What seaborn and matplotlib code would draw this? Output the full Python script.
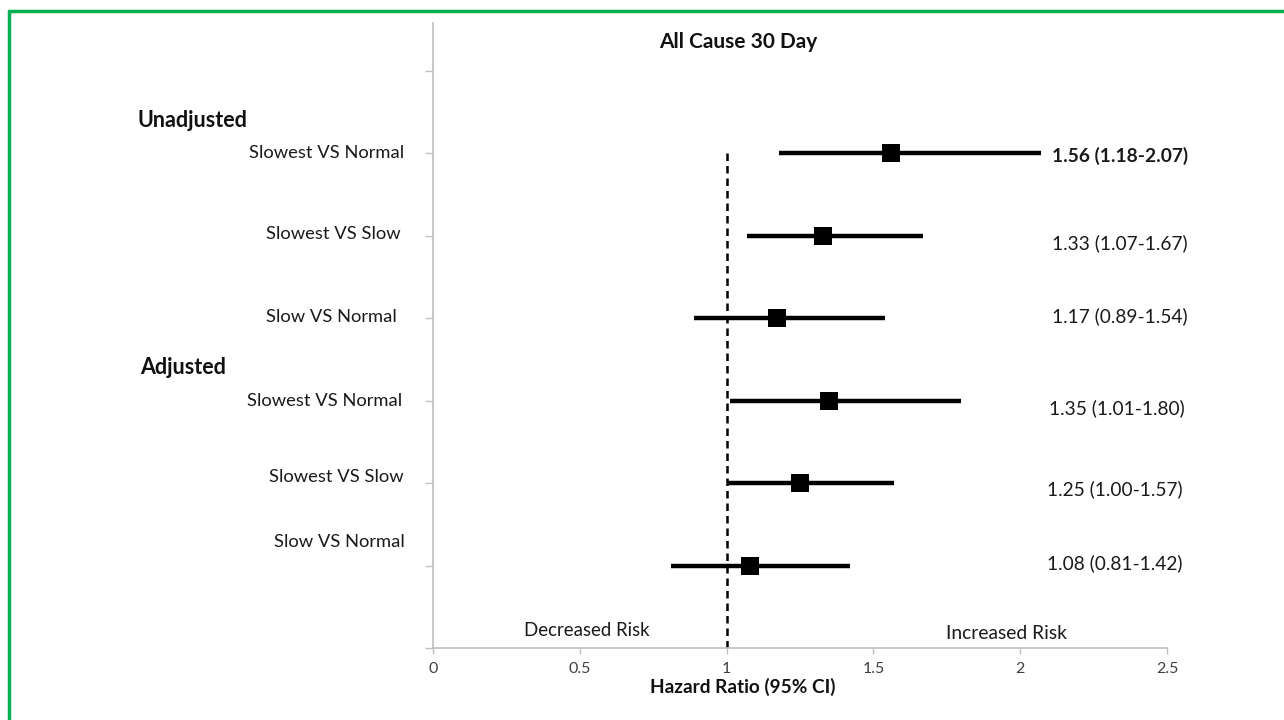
import numpy as np
import pandas as pd
import matplotlib
matplotlib.use("Agg")
import matplotlib.pyplot as plt
import seaborn as sb

# rows from top to bottom
comparisons = ["Slowest VS Normal", "Slowest VS Slow", "Slow VS Normal",
               "Slowest VS Normal", "Slowest VS Slow", "Slow VS Normal"]
groups = ["Unadjusted", "Unadjusted", "Unadjusted", "Adjusted", "Adjusted", "Adjusted"]
hr = [1.56, 1.33, 1.17, 1.35, 1.25, 1.08]
ci_low = [1.18, 1.07, 0.89, 1.01, 1.00, 0.81]
ci_high = [2.07, 1.67, 1.54, 1.80, 1.57, 1.42]
rows = [6, 5, 4, 3, 2, 1]

df = pd.DataFrame({"comparison": comparisons, "group": groups, "hr": hr,
                   "lo": ci_low, "hi": ci_high, "row": rows})
df["label"] = [f"{h:.2f} ({l:.2f}-{u:.2f})" for h, l, u in zip(df.hr, df.lo, df.hi)]

sb.set_theme(style="white")
plt.rcParams["font.family"] = ["Lato", "DejaVu Sans"]

fig = plt.figure(figsize=(12.84, 7.2), dpi=100)
ax = fig.add_axes([433 / 1284, 1 - 648 / 720, 734 / 1284, 625 / 720])

ax.hlines(df.row, df.lo, df.hi, color="black", linewidth=3.2, zorder=2)
sb.scatterplot(data=df, x="hr", y="row", marker="s", s=150, color="black",
               edgecolor="black", linewidth=0, ax=ax, zorder=3, legend=False)
ax.vlines(1, 0, 6, color="black", linestyle=(0, (3, 2)), linewidth=1.8, zorder=1)

ax.set_xlim(0, 2.5)
ax.set_ylim(0, 7.58)
ax.set_xticks(np.arange(0, 2.51, 0.5))
ax.set_xticklabels(["0", "0.5", "1", "1.5", "2", "2.5"])
ax.set_yticks(range(0, 8))
ax.set_yticklabels([])
ax.set_xlabel("")
ax.set_ylabel("")
ax.tick_params(axis="x", length=4, width=1, color="#bfbfbf", labelsize=11.5,
               labelcolor="#404040", pad=6, bottom=True)
ax.tick_params(axis="y", length=6, width=1, color="#bfbfbf", left=True)
for side in ["top", "right"]:
    ax.spines[side].set_visible(False)
for side in ["left", "bottom"]:
    ax.spines[side].set_color("#bfbfbf")
    ax.spines[side].set_linewidth(1.2)

# comparison labels on the left (slightly offset, as in the original)
label_y = [6.0, 5.02, 4.02, 3.0, 2.07, 1.29]
label_x = [-0.10, -0.11, -0.125, -0.105, -0.10, -0.095]
for lab, lx, ly in zip(df.comparison, label_x, label_y):
    ax.text(lx, ly, lab, ha="right", va="center", fontsize=13.2, color="#1a1a1a")

ax.text(-1.005, 6.4, "Unadjusted", ha="left", va="center", fontsize=15.5,
        fontweight="bold", color="#111111")
ax.text(-0.998, 3.4, "Adjusted", ha="left", va="center", fontsize=15.5,
        fontweight="bold", color="#111111")

# estimate labels on the right
value_x = [2.11, 2.11, 2.11, 2.097, 2.09, 2.09]
value_y = [5.97, 4.91, 4.03, 2.91, 1.93, 1.03]
for i, (txt, vx, vy) in enumerate(zip(df.label, value_x, value_y)):
    ax.text(vx, vy, txt, ha="left", va="center", fontsize=13.8,
            color="#1a1a1a", fontweight="bold" if i == 0 else "normal")

ax.text(0.525, 0.11, "Decreased Risk", ha="center", va="bottom", fontsize=13.4,
        color="#1a1a1a")
ax.text(1.955, 0.07, "Increased Risk", ha="center", va="bottom", fontsize=13.9,
        color="#1a1a1a")

fig.text(738 / 1284, 1 - 42 / 720, "All Cause 30 Day", ha="center", va="center",
         fontsize=15, fontweight="bold", color="#111111")
fig.text(743 / 1284, 1 - 687 / 720, "Hazard Ratio (95% CI)", ha="center",
         va="center", fontsize=13.7, fontweight="bold", color="#111111")

# green frame on top and left edges
fig.add_artist(plt.Line2D([9 / 1284, 1], [1 - 11 / 720, 1 - 11 / 720],
                          transform=fig.transFigure, color="#00b050", linewidth=2.5))
fig.add_artist(plt.Line2D([9 / 1284, 9 / 1284], [0, 1 - 11 / 720],
                          transform=fig.transFigure, color="#00b050", linewidth=2.5))

fig.savefig("out.png", dpi=100)
